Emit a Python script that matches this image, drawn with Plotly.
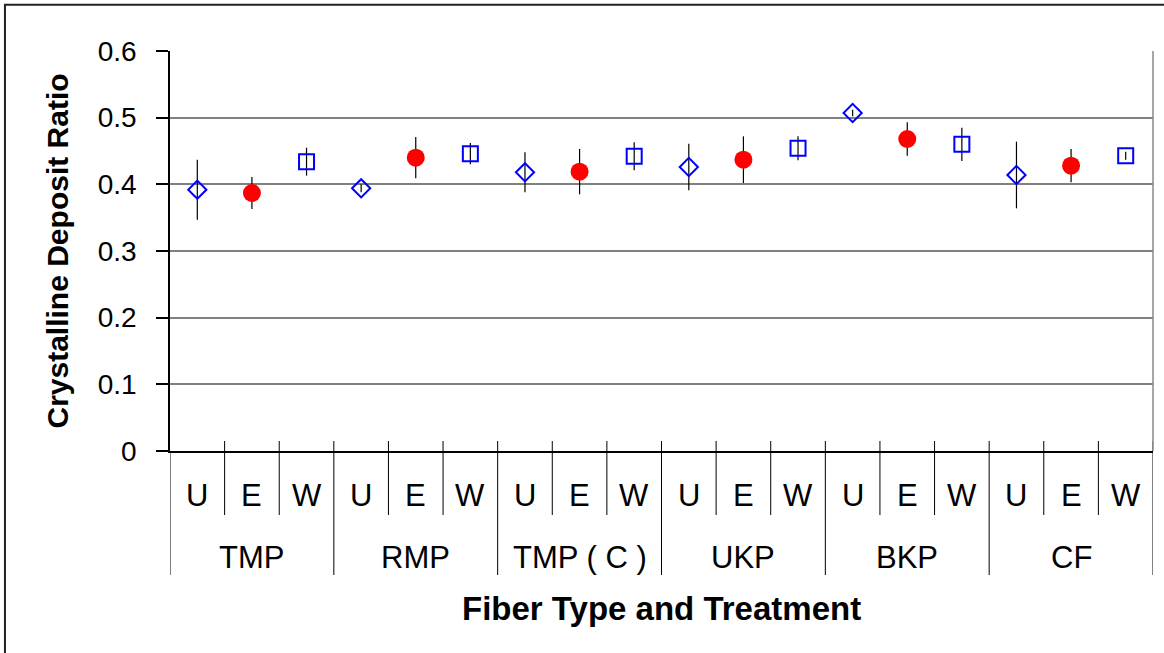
import plotly.graph_objects as go

# ---- data ----
fiber_types = ["TMP", "RMP", "TMP ( C )", "UKP", "BKP", "CF"]
treatments = ["U", "E", "W"]

u_values = [0.392, 0.394, 0.418, 0.426, 0.507, 0.414]
u_errors = [0.045, 0.006, 0.030, 0.035, 0.005, 0.050]
e_values = [0.387, 0.440, 0.419, 0.437, 0.468, 0.428]
e_errors = [0.024, 0.031, 0.034, 0.035, 0.025, 0.025]
w_values = [0.434, 0.446, 0.442, 0.454, 0.460, 0.443]
w_errors = [0.021, 0.016, 0.021, 0.018, 0.025, 0.006]

y_ticks = [0, 0.1, 0.2, 0.3, 0.4, 0.5, 0.6]

n_groups = len(fiber_types)
n_treat = len(treatments)

def xpos(ti):
    return [g * n_treat + ti for g in range(n_groups)]

FONT = "Liberation Sans, Arial, sans-serif"
BLUE = "#0000FF"
RED = "#FF0000"

fig = go.Figure()

series = [
    (u_values, u_errors, dict(symbol="diamond-open", size=14, color=BLUE, line=dict(width=2, color=BLUE))),
    (e_values, e_errors, dict(symbol="circle", size=18, color=RED, line=dict(width=0))),
    (w_values, w_errors, dict(symbol="square-open", size=15, color=BLUE, line=dict(width=2, color=BLUE))),
]
for ti, (vals, errs, mk) in enumerate(series):
    fig.add_trace(go.Scatter(
        x=xpos(ti), y=vals, mode="markers", marker=mk,
        error_y=dict(type="data", array=errs, symmetric=True, color="black", thickness=1.2, width=0),
        name=treatments[ti], showlegend=False, cliponaxis=False,
    ))

n_cat = n_groups * n_treat
shapes = []
# sub-category and group divider lines below the axis
for k in range(n_cat + 1):
    xb = k - 0.5
    is_group = (k % n_treat == 0)
    y_top = 0 if k == 0 else 0.025
    y_bot = -0.31 if is_group else -0.16
    shapes.append(dict(type="line", xref="x", yref="paper", x0=xb, x1=xb, y0=y_top, y1=y_bot,
                       line=dict(color="black", width=1)))
# plot area right border (gray)
shapes.append(dict(type="line", xref="paper", yref="paper", x0=1, x1=1, y0=0, y1=1,
                   line=dict(color="#888888", width=1.5)))
# outer chart frame
shapes.append(dict(type="rect", xref="paper", yref="paper", x0=-0.1679, x1=1.02, y0=1.1155, y1=-0.53,
                   line=dict(color="#222222", width=2), fillcolor="rgba(0,0,0,0)", layer="below"))

annotations = []
for g in range(n_groups):
    for ti, t in enumerate(treatments):
        annotations.append(dict(x=g * n_treat + ti, y=-0.11, xref="x", yref="paper", text=t,
                                showarrow=False, font=dict(family=FONT, size=31, color="black"),
                                xanchor="center", yanchor="middle"))
    annotations.append(dict(x=g * n_treat + 1, y=-0.265, xref="x", yref="paper", text=fiber_types[g],
                            showarrow=False, font=dict(family=FONT, size=31, color="black"),
                            xanchor="center", yanchor="middle"))
annotations.append(dict(x=0.5, y=-0.3925, xref="paper", yref="paper", text="<b>Fiber Type and Treatment</b>",
                        showarrow=False, font=dict(family=FONT, size=33, color="black"),
                        xanchor="center", yanchor="middle"))

fig.update_layout(
    width=1164, height=653,
    margin=dict(l=170, r=11, t=51, b=202),
    paper_bgcolor="white", plot_bgcolor="white",
    font=dict(family=FONT, color="black"),
    xaxis=dict(range=[-0.5, n_cat - 0.5], showticklabels=False, ticks="", showgrid=False,
               zeroline=False, showline=True, linecolor="black", linewidth=1.5, fixedrange=True),
    yaxis=dict(range=[0, 0.6], tickvals=y_ticks, ticktext=[f"{v:g}" for v in y_ticks],
               ticks="outside", ticklen=12, tickcolor="black", tickwidth=1.5,
               ticklabelstandoff=14,
               tickfont=dict(family=FONT, size=28, color="black"),
               showgrid=True, gridcolor="#808080", gridwidth=1.5, zeroline=False,
               showline=True, linecolor="black", linewidth=1.5,
               title=dict(text="<b>Crystalline Deposit Ratio</b>", font=dict(family=FONT, size=30, color="black"),
                          standoff=20)),
    shapes=shapes, annotations=annotations,
)

fig.write_html("out.html", config={"displayModeBar": False},
               post_script="document.body.style.margin='0';document.body.style.padding='0';")
